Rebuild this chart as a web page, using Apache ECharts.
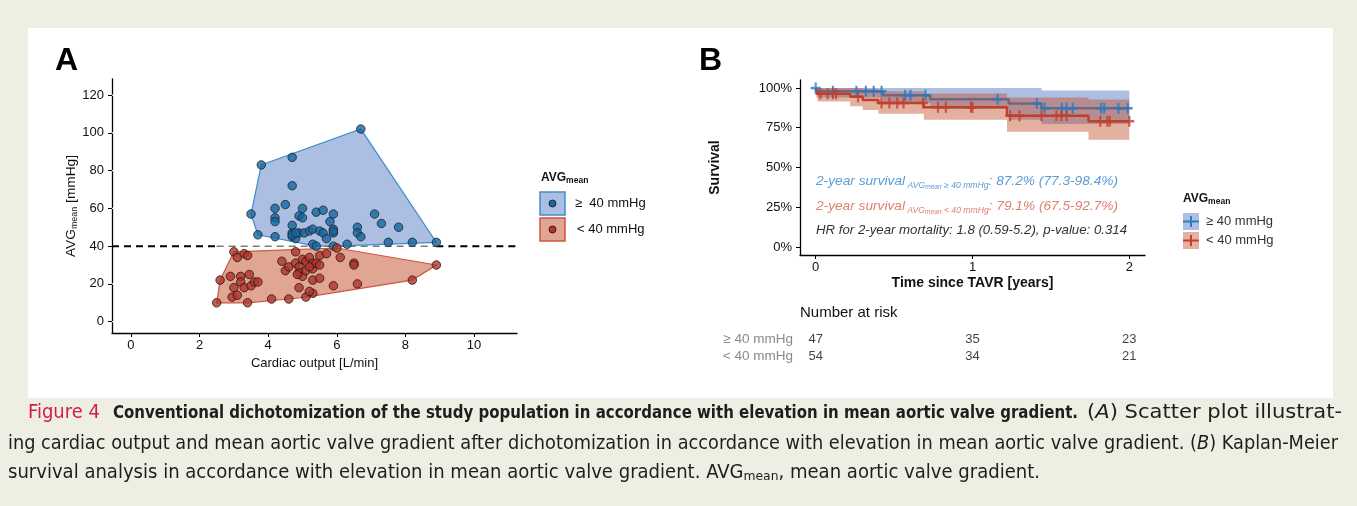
<!DOCTYPE html>
<html>
<head>
<meta charset="utf-8">
<script src="https://cdn.jsdelivr.net/npm/echarts@6/dist/echarts.min.js"></script>
<style>
  html, body { margin: 0; padding: 0; background: #EFEEE3; }
  #panel { position: absolute; left: 28px; top: 28px; width: 1305px; height: 370px; background: #ffffff; }
  #c { position: absolute; left: 0; top: 0; width: 1357px; height: 506px; }
</style>
</head>
<body>
<div id="panel"></div>
<div id="c"></div>
<script>
// ---------- Panel A: cardiac output [L/min] vs. mean aortic valve gradient [mmHg] ----------
const THRESHOLD = 40;
const groupHigh = [ // AVGmean >= 40 mmHg
  [6.7,102],[3.8,83],[4.7,87],[4.7,72],[3.5,57],[3.7,46],[4.2,60],[4.2,55],[4.2,53],[4.2,45],
  [4.5,62],[4.7,51],[4.7,47],[4.7,45],[4.8,44],[4.9,56],[5.0,60],[5.0,55],[4.9,47],[5.05,47],
  [5.2,48],[5.3,49],[5.4,58],[5.6,59],[5.5,48],[5.6,47],[5.7,44],[5.8,53],[5.9,57],[5.9,49],
  [5.9,47],[5.3,41],[5.4,40],[5.9,40],[6.3,41],[6.6,50],[6.6,47],[6.7,45],[7.1,57],[7.3,52],
  [7.8,50],[7.5,42],[8.2,42],[8.9,42],[4.7,46],[5.9,48],[4.8,47]
];
const groupLow = [ // AVGmean < 40 mmHg
  [2.5,10],[3.4,10],[2.6,22],[3.0,37],[3.1,34],[3.3,36],[3.4,35],[2.9,24],[3.2,24],[3.2,21],
  [3.45,25],[3.0,18],[3.3,18],[3.5,19],[3.6,21],[3.7,21],[2.95,13],[3.1,14],[4.1,12],[4.6,12],
  [5.1,13],[5.3,15],[5.2,16],[4.9,18],[4.4,32],[4.5,27],[4.6,29],[4.8,37],[4.8,31],[4.9,29],
  [4.9,26],[5.0,24],[5.0,33],[5.1,32],[5.2,34],[5.1,27],[5.3,28],[5.3,31],[5.4,31],[5.5,35],
  [5.5,30],[5.7,36],[5.3,22],[5.5,23],[5.9,19],[6.0,39],[6.1,34],[6.5,31],[6.5,30],[6.6,20],
  [8.2,22],[8.9,30],[4.85,25],[5.2,29]
];
const xTicksA = [0, 2, 4, 6, 8, 10];
const yTicksA = [0, 20, 40, 60, 80, 100, 120];

// ---------- Panel B: Kaplan-Meier survival ----------
const kmHighTime  = [0, 0.01, 0.43, 0.73, 1.23, 1.44, 2.0];
const kmHighSurv  = [1, 0.979, 0.954, 0.929, 0.902, 0.872, 0.872];
const kmHighUpper = [1, 1, 1, 1, 1, 0.984, 0.984];
const kmHighLower = [1, 0.94, 0.905, 0.87, 0.80, 0.773, 0.773];
const censorHigh  = [0.0, 0.11, 0.26, 0.32, 0.37, 0.42, 0.57, 0.605, 0.70, 1.16, 1.41, 1.46, 1.57, 1.60, 1.64, 1.82, 1.84, 1.93, 1.99];

const kmLowTime  = [0, 0.005, 0.012, 0.22, 0.30, 0.40, 0.69, 1.22, 1.74, 2.0];
const kmLowSurv  = [1, 0.981, 0.963, 0.944, 0.925, 0.905, 0.879, 0.826, 0.791, 0.791];
const kmLowUpper = [1, 1, 1, 1, 0.995, 0.98, 0.965, 0.94, 0.927, 0.927];
const kmLowLower = [1, 0.94, 0.915, 0.885, 0.862, 0.838, 0.80, 0.725, 0.675, 0.675];
const censorLow  = [0.03, 0.076, 0.11, 0.13, 0.27, 0.42, 0.47, 0.52, 0.56, 0.685, 0.78, 0.83, 0.99, 1.0, 1.24, 1.30, 1.44, 1.535, 1.567, 1.60, 1.815, 1.86, 1.875, 2.0];

const xTicksB = [0, 1, 2];
const yTicksB = [0, 0.25, 0.5, 0.75, 1];

// Number at risk
const riskTimes = [0, 1, 2];
const riskRows  = ['\u2265 40 mmHg', '< 40 mmHg'];
const riskHigh  = [47, 35, 23];
const riskLow   = [54, 34, 21];

// ---------- styling ----------
const FONT = '"Liberation Sans", Arial, Helvetica, sans-serif';
const CAP_FONT = '"Liberation Sans Narrow", "DejaVu Sans Condensed", "Liberation Sans", sans-serif';
const INK = '#111111';
const BLUE_PT = '#15679F', RED_PT = '#B0342A';
const BLUE_EDGE = '#3C8FCC', RED_EDGE = '#CC5540';
const BLUE_FILL = 'rgba(70,110,190,0.45)', RED_FILL = 'rgba(195,75,40,0.5)';
const KM_BLUE = '#2B7BBF', KM_RED = '#C0402C';
const BAND_BLUE = 'rgba(70,110,190,0.45)', BAND_RED = 'rgba(195,80,45,0.45)';

// ---------- helpers ----------
function convexHull(points) {
  const p = points.slice().sort((a, b) => a[0] - b[0] || a[1] - b[1]);
  const cross = (o, a, b) => (a[0] - o[0]) * (b[1] - o[1]) - (a[1] - o[1]) * (b[0] - o[0]);
  const lower = [], upper = [];
  for (const q of p) {
    while (lower.length >= 2 && cross(lower[lower.length - 2], lower[lower.length - 1], q) <= 0) lower.pop();
    lower.push(q);
  }
  for (let i = p.length - 1; i >= 0; i--) {
    const q = p[i];
    while (upper.length >= 2 && cross(upper[upper.length - 2], upper[upper.length - 1], q) <= 0) upper.pop();
    upper.push(q);
  }
  upper.pop(); lower.pop();
  return lower.concat(upper);
}

function survAt(times, surv, t) {
  let s = surv[0];
  for (let i = 0; i < times.length; i++) if (times[i] <= t) s = surv[i];
  return s;
}

function stepBand(times, upper, lower) {
  const top = [], bot = [];
  for (let i = 0; i < times.length - 1; i++) {
    top.push([times[i], upper[i]], [times[i + 1], upper[i]]);
    bot.push([times[i], lower[i]], [times[i + 1], lower[i]]);
  }
  return top.concat(bot.reverse());
}

const mctx = document.createElement('canvas').getContext('2d');
function fontStr(s, fam) {
  return (s.style || 'normal') + ' ' + (s.weight || 'normal') + ' ' + s.size + 'px ' + (s.family || fam || FONT);
}
// A line of text made of styled runs (subscripts, italics), optionally fitted to a width.
function textRun(segs, opt) {
  const fam = opt.family || FONT;
  const widths = segs.map(s => { mctx.font = fontStr(s, fam); return mctx.measureText(s.t).width; });
  const total = widths.reduce((a, b) => a + b, 0);
  const sc = opt.width ? opt.width / total : 1;
  let cx = opt.center ? -total / 2 : 0;
  const children = segs.map((s, i) => {
    const el = {
      type: 'text', x: cx, y: s.dy || 0, silent: true,
      style: {
        text: s.t, font: fontStr(s, fam), fill: s.color || opt.color || INK,
        textAlign: 'left', textVerticalAlign: 'middle', align: 'left', verticalAlign: 'middle'
      }
    };
    cx += widths[i];
    return el;
  });
  return { type: 'group', x: opt.x, y: opt.y, scaleX: sc, rotation: opt.rotation || 0, silent: true, children };
}

const hullHigh = convexHull(groupHigh);
const hullLow = convexHull(groupLow);
const allX = groupHigh.concat(groupLow).map(p => p[0]);
const minX = Math.min.apply(null, allX), maxX = Math.max.apply(null, allX);
const X_MIN_A = -0.55, X_MAX_A = 11.25;

function polygonSeries(name, pts, fill, stroke, z) {
  return {
    name, type: 'custom', xAxisIndex: 0, yAxisIndex: 0, z, silent: true, clip: false,
    data: [[pts[0][0], pts[0][1]]],
    renderItem: (params, api) => ({
      type: 'polygon',
      shape: { points: pts.map(p => api.coord(p)) },
      style: { fill, stroke, lineWidth: 1.2 }
    })
  };
}

function bandSeries(name, times, upper, lower, fill, z) {
  const pts = stepBand(times, upper, lower);
  return {
    name, type: 'custom', xAxisIndex: 1, yAxisIndex: 1, z, silent: true, clip: true,
    data: [[times[0], upper[0]]],
    renderItem: (params, api) => ({
      type: 'polygon',
      shape: { points: pts.map(p => api.coord(p)) },
      style: { fill, stroke: null }
    })
  };
}

const PLUS = 'path://M3.9,0H6.1V3.9H10V6.1H6.1V10H3.9V6.1H0V3.9H3.9Z';

const axisLineStyle = { show: true, onZero: false, lineStyle: { color: '#000', width: 1.3 } };
const tickStyle = { show: true, length: 4, lineStyle: { color: '#000', width: 1 } };

const chart = echarts.init(document.getElementById('c'), null, { renderer: 'canvas' });

const option = {
  animation: false,
  backgroundColor: 'transparent',
  grid: [
    { left: 112, top: 79, width: 405, height: 254 },
    { left: 800, top: 80, width: 345, height: 175 },
    { left: 800, top: 330.5, width: 345, height: 34 }
  ],
  xAxis: [
    {
      type: 'value', gridIndex: 0, min: X_MIN_A, max: X_MAX_A,
      axisLine: axisLineStyle, splitLine: { show: false },
      axisTick: Object.assign({ customValues: xTicksA }, tickStyle),
      axisLabel: { customValues: xTicksA, color: INK, fontSize: 13, fontFamily: FONT, margin: 6 },
      name: 'Cardiac output [L/min]', nameLocation: 'middle', nameGap: 22,
      nameTextStyle: { color: INK, fontSize: 13, fontFamily: FONT }
    },
    {
      type: 'value', gridIndex: 1, min: -0.1, max: 2.1,
      axisLine: axisLineStyle, splitLine: { show: false },
      axisTick: Object.assign({ customValues: xTicksB }, tickStyle),
      axisLabel: { customValues: xTicksB, color: INK, fontSize: 13, fontFamily: FONT, margin: 6 },
      name: 'Time since TAVR [years]', nameLocation: 'middle', nameGap: 21,
      nameTextStyle: { color: INK, fontSize: 14, fontWeight: 'bold', fontFamily: FONT }
    },
    { type: 'value', gridIndex: 2, min: -0.1, max: 2.1, show: false }
  ],
  yAxis: [
    {
      type: 'value', gridIndex: 0, min: -6, max: 128.5,
      axisLine: axisLineStyle, splitLine: { show: false },
      axisTick: Object.assign({ customValues: yTicksA }, tickStyle),
      axisLabel: { customValues: yTicksA, color: INK, fontSize: 13, fontFamily: FONT, margin: 8 }
    },
    {
      type: 'value', gridIndex: 1, min: -0.05, max: 1.05,
      axisLine: axisLineStyle, splitLine: { show: false },
      axisTick: Object.assign({ customValues: yTicksB }, tickStyle),
      axisLabel: {
        customValues: yTicksB, color: INK, fontSize: 13, fontFamily: FONT, margin: 8,
        formatter: v => Math.round(v * 100) + '%'
      },
      name: 'Survival', nameLocation: 'middle', nameRotate: 90, nameGap: 78,
      nameTextStyle: { color: INK, fontSize: 14, fontWeight: 'bold', fontFamily: FONT }
    },
    {
      type: 'category', gridIndex: 2, inverse: true, data: riskRows,
      axisLine: { show: false }, axisTick: { show: false }, splitLine: { show: false },
      axisLabel: { interval: 0, color: '#8a8a8a', fontSize: 13.5, fontFamily: FONT, margin: 7 }
    }
  ],
  series: [
    // white major grid lines (only visible through the hull fills)
    {
      name: 'gridA', type: 'custom', xAxisIndex: 0, yAxisIndex: 0, z: 1, silent: true, clip: true,
      data: [[xTicksA[0], yTicksA[0]]],
      renderItem: (params, api) => {
        const cs = params.coordSys;
        const children = [];
        xTicksA.forEach(v => {
          const px = api.coord([v, 0])[0];
          children.push({ type: 'line', shape: { x1: px, y1: cs.y, x2: px, y2: cs.y + cs.height }, style: { stroke: '#ffffff', lineWidth: 1.3 } });
        });
        yTicksA.forEach(v => {
          const py = api.coord([0, v])[1];
          children.push({ type: 'line', shape: { x1: cs.x, y1: py, x2: cs.x + cs.width, y2: py }, style: { stroke: '#ffffff', lineWidth: 1.3 } });
        });
        return { type: 'group', children };
      }
    },
    polygonSeries('hullHigh', hullHigh, BLUE_FILL, BLUE_EDGE, 2),
    polygonSeries('hullLow', hullLow, RED_FILL, RED_EDGE, 2),
    // threshold line at 40 mmHg
    {
      type: 'line', xAxisIndex: 0, yAxisIndex: 0, z: 3, silent: true, symbol: 'none',
      data: [[X_MIN_A, THRESHOLD], [minX, THRESHOLD]],
      lineStyle: { color: '#000', width: 2, type: [7, 5] }
    },
    {
      type: 'line', xAxisIndex: 0, yAxisIndex: 0, z: 3, silent: true, symbol: 'none',
      data: [[minX, THRESHOLD], [maxX, THRESHOLD]],
      lineStyle: { color: '#7a7a7a', width: 1.5, type: [7, 5] }
    },
    {
      type: 'line', xAxisIndex: 0, yAxisIndex: 0, z: 3, silent: true, symbol: 'none',
      data: [[maxX, THRESHOLD], [X_MAX_A, THRESHOLD]],
      lineStyle: { color: '#000', width: 2, type: [7, 5] }
    },
    {
      name: '\u2265 40 mmHg', type: 'scatter', xAxisIndex: 0, yAxisIndex: 0, z: 5,
      data: groupHigh, symbolSize: 8.5,
      itemStyle: { color: BLUE_PT, borderColor: '#1a2530', borderWidth: 1 }
    },
    {
      name: '< 40 mmHg', type: 'scatter', xAxisIndex: 0, yAxisIndex: 0, z: 5,
      data: groupLow, symbolSize: 8.5,
      itemStyle: { color: RED_PT, borderColor: '#2a1512', borderWidth: 1 }
    },

    // Kaplan-Meier bands, curves and censoring marks
    bandSeries('bandHigh', kmHighTime, kmHighUpper, kmHighLower, BAND_BLUE, 2),
    {
      type: 'line', xAxisIndex: 1, yAxisIndex: 1, z: 3, step: 'end', symbol: 'none', silent: true,
      data: kmHighTime.map((t, i) => [t, kmHighSurv[i]]),
      lineStyle: { color: KM_BLUE, width: 2.5 }
    },
    bandSeries('bandLow', kmLowTime, kmLowUpper, kmLowLower, BAND_RED, 4),
    {
      type: 'line', xAxisIndex: 1, yAxisIndex: 1, z: 5, step: 'end', symbol: 'none', silent: true,
      data: kmLowTime.map((t, i) => [t, kmLowSurv[i]]),
      lineStyle: { color: KM_RED, width: 2.5 }
    },
    {
      type: 'scatter', xAxisIndex: 1, yAxisIndex: 1, z: 6, silent: true,
      symbol: PLUS, symbolSize: [10, 11],
      data: censorHigh.map(t => [t, survAt(kmHighTime, kmHighSurv, t)]),
      itemStyle: { color: KM_BLUE }
    },
    {
      type: 'scatter', xAxisIndex: 1, yAxisIndex: 1, z: 6, silent: true,
      symbol: PLUS, symbolSize: [10, 11],
      data: censorLow.map(t => [t, survAt(kmLowTime, kmLowSurv, t)]),
      itemStyle: { color: KM_RED }
    },

    // Number at risk table
    {
      type: 'scatter', xAxisIndex: 2, yAxisIndex: 2, silent: true, symbolSize: 1,
      itemStyle: { color: 'rgba(0,0,0,0)' },
      data: riskTimes.map((t, i) => [t, riskRows[0], riskHigh[i]])
        .concat(riskTimes.map((t, i) => [t, riskRows[1], riskLow[i]])),
      label: {
        show: true, position: 'inside', formatter: p => String(p.value[2]),
        color: INK, fontSize: 13, fontFamily: FONT
      }
    }
  ],
  graphic: [
    // panel letters
    { type: 'text', x: 55, y: 61, silent: true, style: { text: 'A', font: 'bold 32px ' + FONT, fill: '#000', textVerticalAlign: 'middle', verticalAlign: 'middle' } },
    { type: 'text', x: 699, y: 61, silent: true, style: { text: 'B', font: 'bold 32px ' + FONT, fill: '#000', textVerticalAlign: 'middle', verticalAlign: 'middle' } },

    // panel A y-axis title
    textRun([
      { t: 'AVG', size: 13 },
      { t: 'mean', size: 8.5, dy: 4 },
      { t: ' [mmHg]', size: 13 }
    ], { x: 71, y: 206, rotation: Math.PI / 2, center: true, width: 102 }),

    // panel A legend
    textRun([{ t: 'AVG', size: 12, weight: 'bold' }, { t: 'mean', size: 8.5, weight: 'bold', dy: 3 }], { x: 541, y: 178 }),
    { type: 'rect', silent: true, shape: { x: 540, y: 192, width: 25, height: 23 }, style: { fill: BLUE_FILL, stroke: BLUE_EDGE, lineWidth: 1.5 } },
    { type: 'circle', silent: true, shape: { cx: 552.5, cy: 203.5, r: 3.5 }, style: { fill: BLUE_PT, stroke: '#1a2530', lineWidth: 0.9 } },
    { type: 'text', silent: true, x: 575, y: 203.5, style: { text: '\u2265  40 mmHg', font: '13px ' + FONT, fill: INK, textVerticalAlign: 'middle', verticalAlign: 'middle' } },
    { type: 'rect', silent: true, shape: { x: 540, y: 218, width: 25, height: 23 }, style: { fill: RED_FILL, stroke: RED_EDGE, lineWidth: 1.5 } },
    { type: 'circle', silent: true, shape: { cx: 552.5, cy: 229.5, r: 3.5 }, style: { fill: RED_PT, stroke: '#2a1512', lineWidth: 0.9 } },
    { type: 'text', silent: true, x: 577, y: 229.5, style: { text: '< 40 mmHg', font: '13px ' + FONT, fill: INK, textVerticalAlign: 'middle', verticalAlign: 'middle' } },

    // panel B annotations
    textRun([
      { t: '2-year survival', size: 13.5, style: 'italic' },
      { t: ' AVG', size: 8.5, style: 'italic', dy: 4 },
      { t: 'mean', size: 6.5, style: 'italic', dy: 6 },
      { t: ' \u2265 40 mmHg', size: 8.5, style: 'italic', dy: 4 },
      { t: ': 87.2% (77.3-98.4%)', size: 13.5, style: 'italic' }
    ], { x: 816, y: 181.5, width: 302, color: '#5B9BD5' }),
    textRun([
      { t: '2-year survival', size: 13.5, style: 'italic' },
      { t: ' AVG', size: 8.5, style: 'italic', dy: 4 },
      { t: 'mean', size: 6.5, style: 'italic', dy: 6 },
      { t: ' < 40 mmHg', size: 8.5, style: 'italic', dy: 4 },
      { t: ': 79.1% (67.5-92.7%)', size: 13.5, style: 'italic' }
    ], { x: 816, y: 206.5, width: 302, color: '#E0806E' }),
    textRun([
      { t: 'HR for 2-year mortality: 1.8 (0.59-5.2), p-value: 0.314', size: 13.5, style: 'italic' }
    ], { x: 816, y: 230.5, width: 311, color: '#333333' }),

    // panel B legend
    textRun([{ t: 'AVG', size: 12, weight: 'bold' }, { t: 'mean', size: 8.5, weight: 'bold', dy: 3 }], { x: 1183, y: 199 }),
    { type: 'rect', silent: true, shape: { x: 1183, y: 213, width: 16, height: 17 }, style: { fill: BAND_BLUE } },
    { type: 'line', silent: true, shape: { x1: 1183, y1: 221.5, x2: 1199, y2: 221.5 }, style: { stroke: KM_BLUE, lineWidth: 2 } },
    { type: 'line', silent: true, shape: { x1: 1191, y1: 216, x2: 1191, y2: 227 }, style: { stroke: KM_BLUE, lineWidth: 2 } },
    { type: 'text', silent: true, x: 1206, y: 221.5, style: { text: '\u2265 40 mmHg', font: '13px ' + FONT, fill: '#333', textVerticalAlign: 'middle', verticalAlign: 'middle' } },
    { type: 'rect', silent: true, shape: { x: 1183, y: 232, width: 16, height: 17 }, style: { fill: BAND_RED } },
    { type: 'line', silent: true, shape: { x1: 1183, y1: 240.5, x2: 1199, y2: 240.5 }, style: { stroke: KM_RED, lineWidth: 2 } },
    { type: 'line', silent: true, shape: { x1: 1191, y1: 235, x2: 1191, y2: 246 }, style: { stroke: KM_RED, lineWidth: 2 } },
    { type: 'text', silent: true, x: 1206, y: 240.5, style: { text: '< 40 mmHg', font: '13px ' + FONT, fill: '#333', textVerticalAlign: 'middle', verticalAlign: 'middle' } },

    // risk table heading
    { type: 'text', silent: true, x: 800, y: 313, style: { text: 'Number at risk', font: '15px ' + FONT, fill: INK, textVerticalAlign: 'middle', verticalAlign: 'middle' } },

    // figure caption
    textRun([{ t: 'Figure 4', size: 19, color: '#D01F46' }], { x: 28, y: 413, width: 72, family: CAP_FONT }),
    textRun([{ t: 'Conventional dichotomization of the study population in accordance with elevation in mean aortic valve gradient.', size: 18, weight: 'bold', color: '#1e1e1e' }],
      { x: 113, y: 413, width: 965, family: CAP_FONT }),
    textRun([
      { t: '(', size: 19 }, { t: 'A', size: 19, style: 'italic' }, { t: ') Scatter plot illustrat-', size: 19 }
    ], { x: 1087, y: 413, width: 255, family: CAP_FONT, color: '#1e1e1e' }),
    textRun([
      { t: 'ing cardiac output and mean aortic valve gradient after dichotomization in accordance with elevation in mean aortic valve gradient. (', size: 19 },
      { t: 'B', size: 19, style: 'italic' },
      { t: ') Kaplan-Meier', size: 19 }
    ], { x: 8, y: 444, width: 1330, family: CAP_FONT, color: '#1e1e1e' }),
    textRun([
      { t: 'survival analysis in accordance with elevation in mean aortic valve gradient. AVG', size: 19 },
      { t: 'mean', size: 13, dy: 4 },
      { t: ', mean aortic valve gradient.', size: 19 }
    ], { x: 8, y: 473, width: 1032, family: CAP_FONT, color: '#1e1e1e' })
  ]
};

chart.setOption(option);
</script>
</body>
</html>
